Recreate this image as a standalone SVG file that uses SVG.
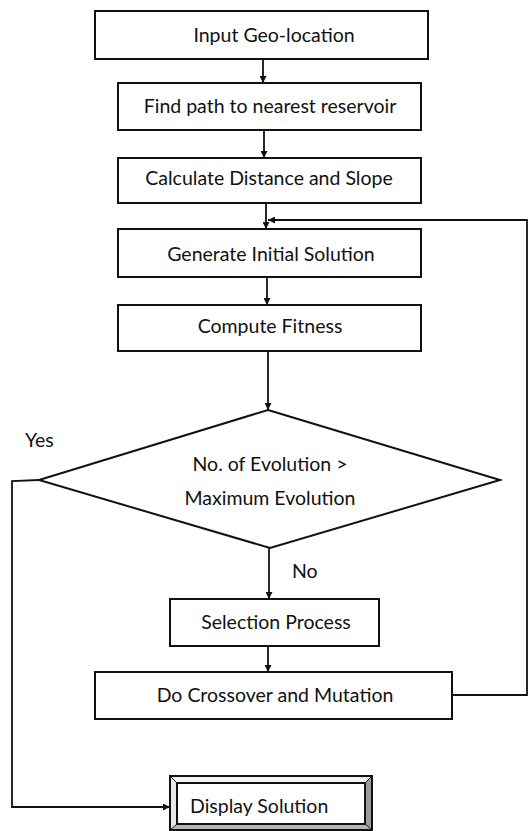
<svg xmlns="http://www.w3.org/2000/svg" width="531" height="831" viewBox="0 0 531 831">
<style>
.box{fill:#fff;stroke:#111;stroke-width:2}
.t{font-family:Lato,"Liberation Sans",Arial,sans-serif;font-size:19.5px;fill:#111;text-anchor:middle}
.lbl{font-family:Lato,"Liberation Sans",Arial,sans-serif;font-size:19.5px;fill:#111}
.c{fill:none;stroke:#111;stroke-width:1.8}
</style>
<defs>
<marker id="ah" viewBox="0 0 10 10" refX="10" refY="5" markerWidth="7" markerHeight="7" markerUnits="userSpaceOnUse" orient="auto">
<path d="M0,0 L10,5 L0,10 z" fill="#111"/>
</marker>
</defs>
<rect width="531" height="831" fill="#fff"/>
<g id="connectors">
<line class="c" x1="263" y1="59" x2="263" y2="83" marker-end="url(#ah)"/>
<line class="c" x1="264" y1="130" x2="264" y2="158" marker-end="url(#ah)"/>
<line class="c" x1="266" y1="203" x2="266" y2="229" marker-end="url(#ah)"/>
<line class="c" x1="267" y1="277" x2="267" y2="305" marker-end="url(#ah)"/>
<line class="c" x1="268" y1="351" x2="268" y2="410" marker-end="url(#ah)"/>
<line class="c" x1="269" y1="548" x2="269" y2="599" marker-end="url(#ah)"/>
<line class="c" x1="268" y1="646" x2="268" y2="672" marker-end="url(#ah)"/>
<polyline class="c" points="452,695 527,695 527,220 268,220" marker-end="url(#ah)"/>
<polyline class="c" points="39,480 12,481 12,807 170,807" marker-end="url(#ah)"/>
</g>
<g id="n1"><rect class="box" x="95" y="11" width="333" height="48"/><text class="t" x="274" y="42">Input Geo-location</text></g>
<g id="n2"><rect class="box" x="118" y="83" width="303" height="47"/><text class="t" x="270" y="113">Find path to nearest reservoir</text></g>
<g id="n3"><rect class="box" x="118" y="158" width="303" height="45"/><text class="t" x="269" y="185">Calculate Distance and Slope</text></g>
<g id="n4"><rect class="box" x="118" y="229" width="303" height="48"/><text class="t" x="271" y="261">Generate Initial Solution</text></g>
<g id="n5"><rect class="box" x="118" y="305" width="303" height="46"/><text class="t" x="270" y="333">Compute Fitness</text></g>
<g id="n6"><polygon class="box" points="268,410 500,480 270,548 39,480"/><text class="t" x="270" y="471">No. of Evolution &gt;</text><text class="t" x="270" y="505">Maximum Evolution</text></g>
<g id="n7"><rect class="box" x="170" y="599" width="209" height="47"/><text class="t" x="276" y="629">Selection Process</text></g>
<g id="n8"><rect class="box" x="95" y="672" width="357" height="47"/><text class="t" x="275" y="702">Do Crossover and Mutation</text></g>
<g id="n9">
<rect x="170" y="776" width="202" height="54" fill="#fff" stroke="#111" stroke-width="2"/>
<polygon points="372,776 365,783 365,824 372,830" fill="#9a9a9a"/>
<polygon points="170,830 177,824 365,824 372,830" fill="#b4b4b4"/>
<polygon points="170,776 372,776 365,783 177,783" fill="#f2f2f2"/>
<polygon points="170,776 177,783 177,824 170,830" fill="#e6e6e6"/>
<g fill="none" stroke="#111" stroke-width="1">
<line x1="170" y1="776" x2="177" y2="783"/><line x1="372" y1="776" x2="365" y2="783"/>
<line x1="170" y1="830" x2="177" y2="824"/><line x1="372" y1="830" x2="365" y2="824"/>
</g>
<rect x="170" y="776" width="202" height="54" fill="none" stroke="#111" stroke-width="2"/>
<rect x="177" y="783" width="188" height="41" fill="#fff" stroke="#111" stroke-width="2"/>
<text class="lbl" x="190" y="813">Display Solution</text>
</g>
<text class="lbl" x="25" y="447">Yes</text>
<text class="lbl" x="292" y="578">No</text>
</svg>
